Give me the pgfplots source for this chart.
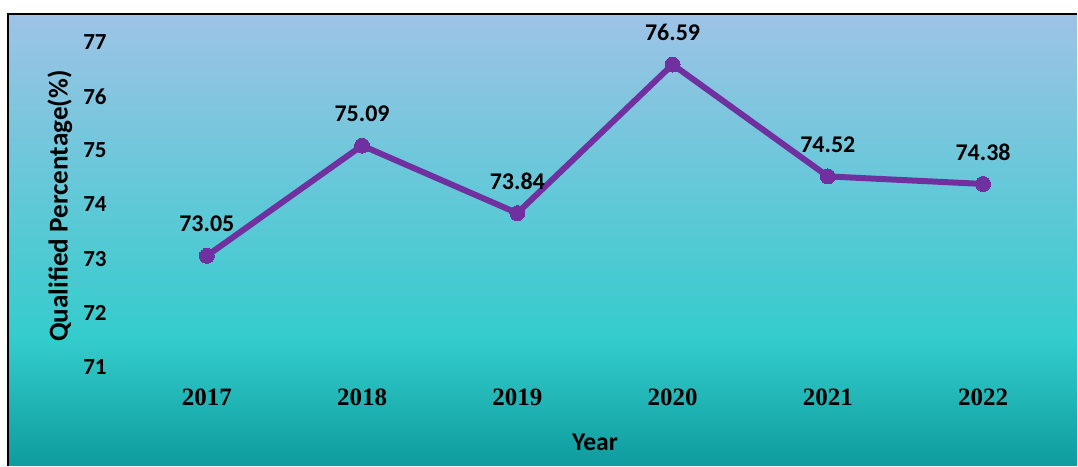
\documentclass[border=0pt]{standalone}
\usepackage{fontspec}
\setmainfont{Liberation Serif}
\newfontfamily\calibri{Carlito}
\usepackage{pgfplots}
\pgfplotsset{compat=1.18}

\definecolor{linepurple}{RGB}{112,48,160}
\definecolor{bgtop}{RGB}{158,195,230}
\definecolor{bgmid}{RGB}{51,204,204}
\definecolor{bgbot}{RGB}{14,156,158}
% path is mapped onto 25bp..75bp of the shading
\pgfdeclareverticalshading{chartbg}{100bp}{color(0bp)=(bgbot); color(25bp)=(bgbot); color(39bp)=(bgmid); color(75bp)=(bgtop); color(100bp)=(bgtop)}

\begin{document}
\begin{tikzpicture}
\begin{axis}[
    scale only axis,
    width=535pt, height=226pt,
    xmin=-1.2806, xmax=5.605,
    ymin=69.170, ymax=77.525,
    axis line style={draw=none},
    axis background/.style={shading=chartbg},
    clip=false,
    major tick length=0pt,
    xtick={0,...,5},
    xticklabels={2017,2018,2019,2020,2021,2022},
    ytick={71,...,77},
    yticklabels={71,72,73,74,75,76,77},
    xticklabel style={font=\fontsize{12.5}{14}\selectfont\bfseries, anchor=center, yshift=34pt},
    yticklabel style={font=\calibri\bfseries\fontsize{11.5}{13}\selectfont, anchor=center, xshift=43.5pt},
    xlabel={Year},
    ylabel={Qualified Percentage(\%)},
    xlabel style={at={(axis cs:2.5,69.6)}, anchor=center, font=\calibri\bfseries\fontsize{12.8}{14}\selectfont},
    ylabel style={at={(axis cs:-0.946,73.97)}, anchor=center, font=\calibri\bfseries\fontsize{13.6}{15}\selectfont},
]
\addplot[
    linepurple, line width=3pt, line join=round,
    mark=*, mark size=3.75pt,
    mark options={fill=linepurple, draw=linepurple, line width=0pt},
    nodes near coords={\pgfmathprintnumber[fixed,fixed zerofill,precision=2,assume math mode=true]{\pgfplotspointmeta}},
    every node near coord/.append style={font=\calibri\bfseries\fontsize{12}{14}\selectfont, text=black, anchor=center, yshift=16pt},
] coordinates {
    (0,73.05) (1,75.09) (2,73.84) (3,76.59) (4,74.52) (5,74.38)
};
% frame: left and top edges, white margin above and left
\draw[black, line width=1pt] (rel axis cs:0,0) -- (rel axis cs:0,1) -- (rel axis cs:1,1);
\path (rel axis cs:0,1) ++(-4pt,7pt);
\end{axis}
\end{tikzpicture}
\end{document}
